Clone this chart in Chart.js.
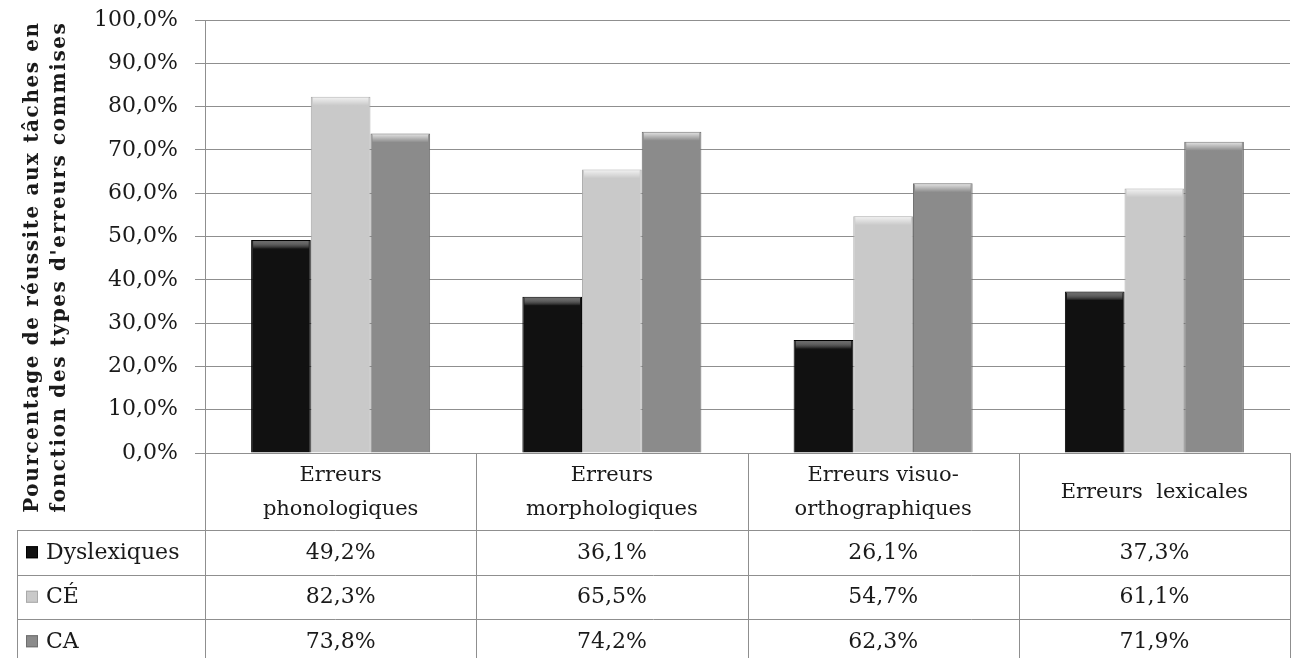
<!DOCTYPE html>
<html>
<head>
<meta charset="utf-8">
<script src="https://cdn.jsdelivr.net/npm/chart.js@4.4.1/dist/chart.umd.min.js"></script>
<style>
    html, body { margin: 0; padding: 0; background: #fff; }
</style>
</head>
<body>
<canvas id="errChart" width="1291" height="658"></canvas>
<script>
// categories (header row of the data table)
const categories = [
    ["Erreurs", "phonologiques"],
    ["Erreurs", "morphologiques"],
    ["Erreurs visuo-", "orthographiques"],
    ["Erreurs  lexicales"]
];

const seriesNames = ["Dyslexiques", "CÉ", "CA"];

const dyslexiques = [49.2, 36.1, 26.1, 37.3];
const ce = [82.3, 65.5, 54.7, 61.1];
const ca = [73.8, 74.2, 62.3, 71.9];

const yMin = 0;
const yMax = 100;
const yStep = 10;

const yTitle = [
    "Pourcentage de réussite aux tâches en",
    "fonction des types d'erreurs commises"
];

const fillColors = ["#111111", "#c9c9c9", "#8b8b8b"];
const edgeColors = ["#000000", "#a9a9a9", "#6e6e6e"];

const serif = "'DejaVu Serif', 'Liberation Serif', serif";
const textColor = "#1a1a1a";
const lineColor = "#8f8f8f";

function pct(v) {
    return v.toFixed(1).replace(".", ",") + "%";
}

const allSeries = [dyslexiques, ce, ca];

// draws the y title and the data table under the plot
const tablePlugin = {
    id: "dataTable",
    afterDraw(chart) {
        const ctx = chart.ctx;
        const area = chart.chartArea;
        const x = chart.scales.x;
        const n = categories.length;
        const catW = (area.right - area.left) / n;

        const headTop = area.bottom;
        const headBottom = 530;
        const rowH = 44.5;
        const tableLeft = 17;
        const right = area.right;

        ctx.save();
        ctx.strokeStyle = lineColor;
        ctx.lineWidth = 1;

        // horizontal lines
        ctx.beginPath();
        for (let r = 0; r <= 3; r++) {
            const y = Math.round(headBottom + r * rowH) + 0.5;
            ctx.moveTo(tableLeft, y);
            ctx.lineTo(right, y);
        }
        // vertical lines
        for (let i = 0; i <= n; i++) {
            const vx = Math.round(area.left + i * catW) + 0.5;
            ctx.moveTo(vx, headTop);
            ctx.lineTo(vx, 658);
        }
        ctx.moveTo(tableLeft + 0.5, headBottom);
        ctx.lineTo(tableLeft + 0.5, 658);
        ctx.stroke();

        ctx.fillStyle = textColor;
        ctx.textAlign = "center";
        ctx.textBaseline = "middle";

        // header labels
        ctx.font = "21px " + serif;
        categories.forEach((lab, i) => {
            const cx = x.getPixelForValue(i);
            const mid = (headTop + headBottom) / 2 + 1;
            if (lab.length === 1) {
                ctx.fillText(lab[0], cx, mid);
            } else {
                ctx.fillText(lab[0], cx, mid - 17);
                ctx.fillText(lab[1], cx, mid + 17);
            }
        });

        // rows
        ctx.font = "22px " + serif;
        seriesNames.forEach((name, r) => {
            const cy = headBottom + r * rowH + rowH / 2;

            // legend key
            const k = 12;
            ctx.fillStyle = fillColors[r];
            ctx.fillRect(26, cy - k / 2, k, k);
            ctx.strokeStyle = edgeColors[r];
            ctx.strokeRect(26.5, cy - k / 2 + 0.5, k - 1, k - 1);

            ctx.fillStyle = textColor;
            ctx.textAlign = "left";
            ctx.fillText(name, 46, cy + 1);

            ctx.textAlign = "center";
            allSeries[r].forEach((v, i) => {
                ctx.fillText(pct(v), x.getPixelForValue(i), cy + 1);
            });
        });

        // y axis title, two rotated lines
        ctx.font = "bold 20px " + serif;
        ctx.letterSpacing = "1.6px";
        ctx.translate(0, 267);
        ctx.rotate(-Math.PI / 2);
        ctx.textAlign = "center";
        ctx.fillText(yTitle[0], 0, 33);
        ctx.fillText(yTitle[1], 0, 60);

        ctx.restore();
    }
};

// small bevel on top of each bar
const bevelPlugin = {
    id: "bevel",
    afterDatasetsDraw(chart) {
        const ctx = chart.ctx;
        ctx.save();
        chart.data.datasets.forEach((ds, di) => {
            chart.getDatasetMeta(di).data.forEach(bar => {
                const left = bar.x - bar.width / 2;
                const w = bar.width;
                const g = ctx.createLinearGradient(0, bar.y, 0, bar.y + 9);
                g.addColorStop(0, di === 0 ? "rgba(110,110,110,0.9)" : "rgba(255,255,255,0.8)");
                g.addColorStop(1, "rgba(255,255,255,0)");
                ctx.fillStyle = g;
                ctx.fillRect(left + 2, bar.y + 1, w - 4, 9);
            });
        });
        ctx.restore();
    }
};

const ctx = document.getElementById("errChart").getContext("2d");

new Chart(ctx, {
    type: "bar",

    data: {
        labels: categories,

        datasets: seriesNames.map((name, i) => ({
            label: name,
            data: allSeries[i],
            backgroundColor: fillColors[i],
            borderColor: edgeColors[i],
            borderWidth: 1,
            categoryPercentage: 0.66,
            barPercentage: 1
        }))
    },

    options: {
        responsive: false,
        animation: false,
        devicePixelRatio: 1,

        layout: {
            padding: { top: 20, right: 1, bottom: 205, left: 0 }
        },

        plugins: {
            legend: { display: false },
            tooltip: { enabled: false }
        },

        scales: {
            x: {
                display: false
            },

            y: {
                min: yMin,
                max: yMax,
                ticks: {
                    stepSize: yStep,
                    color: textColor,
                    padding: 17,
                    font: { family: serif, size: 22 },
                    callback: v => pct(v)
                },
                grid: {
                    color: lineColor,
                    tickLength: 10
                },
                border: {
                    color: lineColor
                },
                afterFit(scale) {
                    scale.width = 205;
                    scale.paddingTop = 0;
                    scale.paddingBottom = 0;
                }
            }
        }
    },

    plugins: [tablePlugin, bevelPlugin]
});
</script>
</body>
</html>
